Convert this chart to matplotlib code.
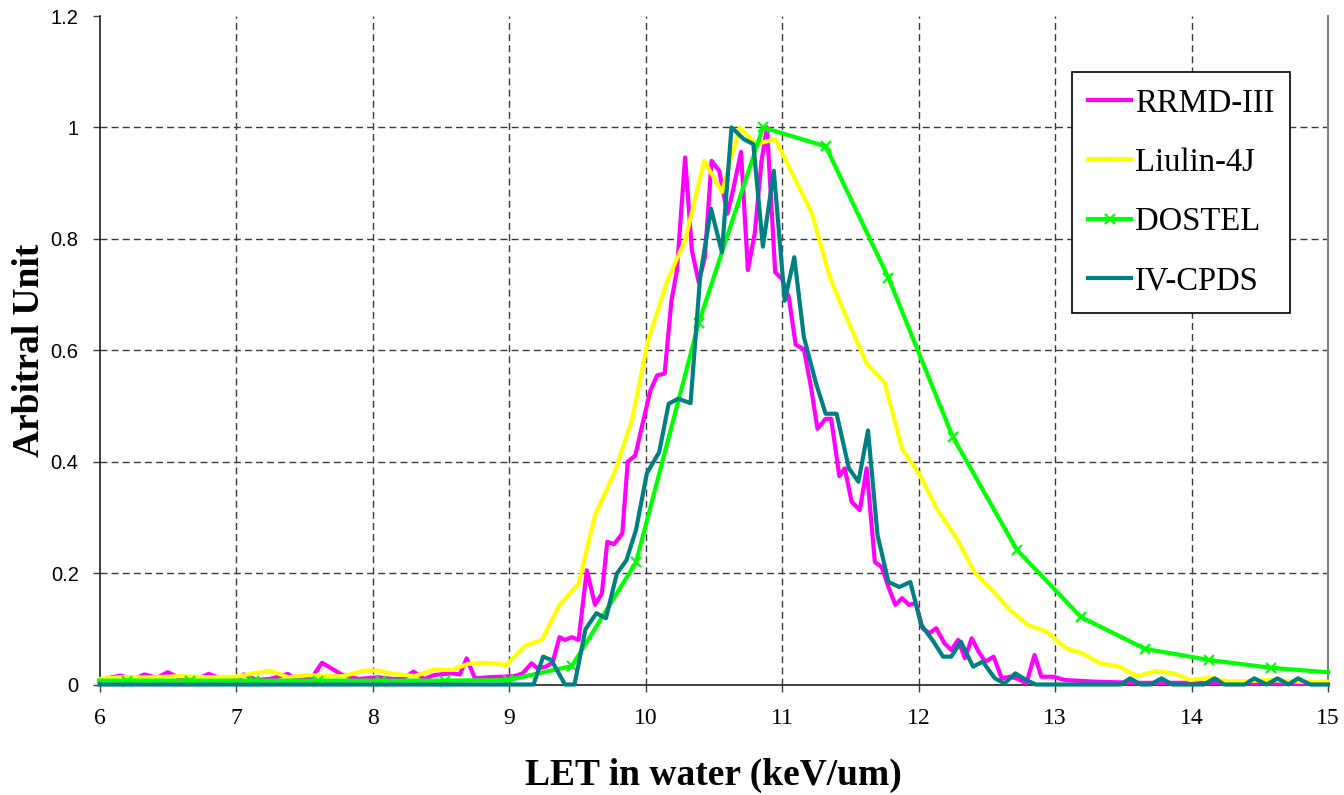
import matplotlib
matplotlib.use("Agg")
import matplotlib.pyplot as plt

# ---------------- data ----------------
rrmd_x = [6.0, 6.15, 6.25, 6.33, 6.42, 6.50, 6.60, 6.70, 6.80, 6.90, 7.00, 7.06, 7.15, 7.25,
          7.38, 7.45, 7.55, 7.63, 7.78, 7.90, 8.04, 8.15, 8.22, 8.30, 8.38, 8.45, 8.58, 8.64,
          8.69, 8.75, 8.85, 8.94, 9.04, 9.10, 9.165, 9.21, 9.27, 9.32, 9.37, 9.41, 9.46, 9.51,
          9.57, 9.63, 9.68, 9.72, 9.77, 9.83, 9.87, 9.925, 9.97, 10.035, 10.085, 10.14, 10.19,
          10.23, 10.29, 10.34, 10.39, 10.435, 10.484, 10.54, 10.60, 10.64, 10.70, 10.75, 10.80,
          10.85, 10.89, 10.95, 11.00, 11.05, 11.10, 11.16, 11.21, 11.26, 11.32, 11.36, 11.42,
          11.46, 11.51, 11.57, 11.62, 11.68, 11.73, 11.78, 11.83, 11.88, 11.93, 11.98, 12.03,
          12.08, 12.13, 12.19, 12.24, 12.29, 12.34, 12.39, 12.44, 12.49, 12.55, 12.61, 12.67,
          12.73, 12.79, 12.85, 12.90, 12.99, 13.07, 13.30, 13.60, 14.00, 14.50, 15.00]
rrmd_y = [0.008, 0.016, 0.010, 0.018, 0.012, 0.022, 0.010, 0.008, 0.019, 0.010, 0.008, 0.018,
          0.008, 0.010, 0.019, 0.008, 0.010, 0.039, 0.017, 0.010, 0.013, 0.010, 0.010, 0.023,
          0.010, 0.017, 0.020, 0.018, 0.047, 0.011, 0.013, 0.014, 0.015, 0.020, 0.038, 0.029,
          0.032, 0.040, 0.085, 0.080, 0.085, 0.080, 0.205, 0.143, 0.163, 0.256, 0.252, 0.271,
          0.400, 0.411, 0.459, 0.527, 0.555, 0.558, 0.689, 0.743, 0.946, 0.779, 0.722, 0.767,
          0.940, 0.922, 0.845, 0.886, 0.956, 0.744, 0.809, 0.940, 1.000, 0.740, 0.728, 0.695,
          0.610, 0.602, 0.537, 0.459, 0.477, 0.477, 0.374, 0.388, 0.328, 0.313, 0.388, 0.220,
          0.211, 0.175, 0.143, 0.155, 0.143, 0.146, 0.101, 0.092, 0.101, 0.074, 0.062, 0.080,
          0.047, 0.083, 0.059, 0.041, 0.050, 0.011, 0.014, 0.010, 0.002, 0.053, 0.014, 0.014,
          0.008, 0.005, 0.003, 0.003, 0.002, 0.001]

liulin_x = [6.0, 6.15, 6.40, 6.59, 6.79, 7.01, 7.13, 7.25, 7.38, 7.52, 7.65, 7.79, 7.93, 8.04,
            8.16, 8.31, 8.45, 8.58, 8.70, 8.85, 8.98, 9.12, 9.24, 9.37, 9.51, 9.63, 9.77, 9.90,
            10.02, 10.16, 10.29, 10.43, 10.56, 10.69, 10.81, 10.95, 11.09, 11.22, 11.35, 11.47,
            11.62, 11.75, 11.88, 12.01, 12.14, 12.28, 12.41, 12.54, 12.67, 12.80, 12.94, 13.08,
            13.20, 13.33, 13.47, 13.60, 13.74, 13.87, 13.99, 14.14, 14.26, 14.40, 14.57, 14.80,
            15.00]
liulin_y = [0.010, 0.013, 0.013, 0.015, 0.013, 0.014, 0.020, 0.025, 0.013, 0.017, 0.015, 0.015,
            0.025, 0.025, 0.019, 0.015, 0.027, 0.026, 0.037, 0.039, 0.035, 0.070, 0.080, 0.143,
            0.181, 0.304, 0.379, 0.474, 0.618, 0.725, 0.797, 0.940, 0.884, 1.000, 0.970, 0.979,
            0.910, 0.845, 0.731, 0.660, 0.576, 0.543, 0.423, 0.376, 0.313, 0.262, 0.202, 0.169,
            0.134, 0.107, 0.095, 0.065, 0.056, 0.038, 0.032, 0.015, 0.024, 0.020, 0.008, 0.012,
            0.006, 0.006, 0.008, 0.005, 0.005]

dostel_x = [6.0, 6.20, 6.665, 7.13, 7.60, 8.06, 8.53, 8.99, 9.46, 9.93, 10.39, 10.86, 11.32,
            11.78, 12.25, 12.72, 13.19, 13.66, 14.13, 14.58, 15.0]
dostel_y = [0.007, 0.007, 0.007, 0.007, 0.007, 0.007, 0.007, 0.008, 0.033, 0.219, 0.649, 1.000,
            0.966, 0.730, 0.445, 0.242, 0.121, 0.064, 0.044, 0.030, 0.022]

cpds_x = [6.0, 9.18, 9.25, 9.31, 9.41, 9.48, 9.56, 9.64, 9.71, 9.79, 9.86, 9.93, 10.01, 10.10,
          10.17, 10.24, 10.33, 10.40, 10.48, 10.56, 10.63, 10.72, 10.79, 10.86, 10.94, 11.02,
          11.09, 11.16, 11.25, 11.32, 11.40, 11.49, 11.56, 11.63, 11.70, 11.78, 11.86, 11.94,
          12.02, 12.11, 12.18, 12.24, 12.31, 12.40, 12.47, 12.56, 12.63, 12.71, 12.79, 12.86,
          13.48, 13.55, 13.63, 13.70, 13.78, 13.86, 14.09, 14.17, 14.24, 14.39, 14.46, 14.55,
          14.63, 14.71, 14.78, 14.87, 15.0]
cpds_y = [0.0, 0.0, 0.050, 0.044, 0.0, 0.0, 0.099, 0.128, 0.119, 0.199, 0.223, 0.277, 0.379,
          0.417, 0.504, 0.513, 0.505, 0.731, 0.854, 0.776, 1.000, 0.979, 0.970, 0.786, 0.922,
          0.689, 0.767, 0.624, 0.540, 0.486, 0.486, 0.388, 0.364, 0.456, 0.268, 0.184, 0.175,
          0.184, 0.107, 0.077, 0.050, 0.050, 0.077, 0.032, 0.041, 0.011, 0.002, 0.020, 0.008,
          0.0, 0.0, 0.011, 0.0, 0.0, 0.011, 0.0, 0.0, 0.011, 0.0, 0.0, 0.011, 0.0, 0.011, 0.0,
          0.011, 0.0, 0.0]

series_names = ["RRMD-III", "Liulin-4J", "DOSTEL", "IV-CPDS"]
x_ticks = [6, 7, 8, 9, 10, 11, 12, 13, 14, 15]
y_ticks = [0, 0.2, 0.4, 0.6, 0.8, 1.0, 1.2]
y_tick_labels = ["0", "0.2", "0.4", "0.6", "0.8", "1", "1.2"]
x_label = "LET in water (keV/um)"
y_label = "Arbitral Unit"

# ---------------- figure ----------------
serif = ["Liberation Serif", "DejaVu Serif"]
sans = ["Liberation Sans", "DejaVu Sans"]

fig = plt.figure(figsize=(13.44, 7.95), dpi=100)
ax = fig.add_axes([99.5 / 1344, 1 - 684.5 / 795, (1328 - 99.5) / 1344, (684.5 - 16) / 795])

lw = 3.0
ax.plot(rrmd_x, rrmd_y, color="#FF00FF", lw=lw, label=series_names[0], clip_on=False, zorder=3)
ax.plot(liulin_x, liulin_y, color="#FFFF00", lw=lw, label=series_names[1], clip_on=False, zorder=4)
ax.plot(dostel_x, dostel_y, color="#00FF00", lw=lw, label=series_names[2], clip_on=False, zorder=5,
        marker="x", markersize=7, markeredgewidth=1.6, markevery=list(range(1, len(dostel_x) - 1)))
ax.plot(cpds_x, cpds_y, color="#008080", lw=lw, label=series_names[3], clip_on=False, zorder=6)

ax.set_xlim(6, 15)
ax.set_ylim(0, 1.2)
ax.set_xticks(x_ticks)
ax.set_xticklabels([str(t) for t in x_ticks], fontfamily=serif, fontsize=17)
ax.set_yticks(y_ticks)
ax.set_yticklabels(y_tick_labels, fontfamily=sans, fontsize=14.5)
ax.tick_params(axis="both", direction="out", length=5, width=1, color="#404040")
ax.tick_params(axis="x", pad=12)
ax.tick_params(axis="y", pad=10)

ax.grid(True, color="#3a3a3a", lw=1.0, linestyle=(0, (5, 3)))
ax.set_axisbelow(True)
ax.yaxis.get_gridlines()[-1].set_visible(False)
ax.yaxis.get_gridlines()[0].set_visible(False)
ax.xaxis.get_gridlines()[0].set_visible(False)
ax.xaxis.get_gridlines()[-1].set_visible(False)

ax.spines["top"].set_visible(False)
ax.spines["right"].set_color("#808080")
ax.spines["right"].set_linewidth(1.5)
ax.spines["left"].set_color("#202020")
ax.spines["bottom"].set_color("#202020")
ax.spines["left"].set_linewidth(1.2)
ax.spines["bottom"].set_linewidth(1.2)

fig.text(713 / 1344, 1 - 775 / 795, x_label, ha="center", va="center",
         fontfamily=serif, fontweight="bold", fontsize=27)
fig.text(30 / 1344, 1 - 350 / 795, y_label, ha="center", va="center", rotation=90,
         fontfamily=serif, fontweight="bold", fontsize=27)

leg = ax.legend(loc="upper left", bbox_to_anchor=(1072 / 1344, 1 - 71.7 / 795),
                bbox_transform=fig.transFigure, borderaxespad=0,
                prop={"family": serif, "size": 23.5}, frameon=True, fancybox=False,
                framealpha=1, edgecolor="black", handlelength=1.3, handletextpad=0.12,
                labelspacing=0.88, borderpad=0.5)
leg.get_frame().set_linewidth(1.2)
leg.set_zorder(10)

fig.savefig("out.png", dpi=100, facecolor="white")
